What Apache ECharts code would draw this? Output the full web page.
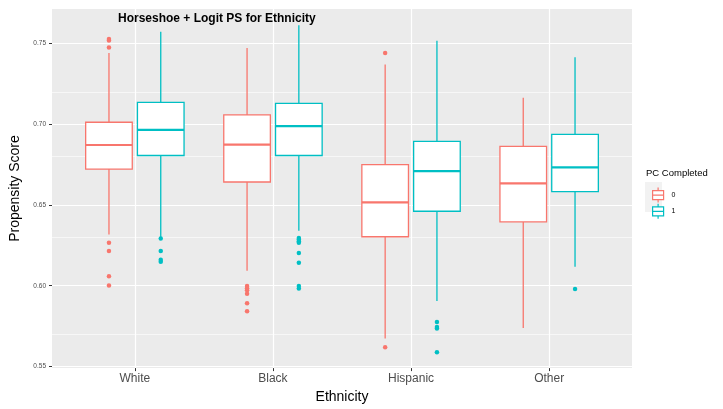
<!DOCTYPE html>
<html>
<head>
<meta charset="utf-8">
<script src="https://cdn.jsdelivr.net/npm/echarts@6/dist/echarts.min.js"></script>
<style>
  html, body { margin: 0; padding: 0; background: #ffffff; }
  #chart { width: 723px; height: 409px; }
</style>
</head>
<body>
<div id="chart"></div>
<script>
// Propensity score distribution by ethnicity, split by PC completion status
const categories = ['White', 'Black', 'Hispanic', 'Other'];
const groupNames = ['0', '1'];

// Box statistics per category: [lower whisker, Q1, median, Q3, upper whisker]
const boxPC0 = [
  [0.6317, 0.6722, 0.6871, 0.7012, 0.7441],
  [0.6093, 0.6642, 0.6873, 0.7057, 0.7472],
  [0.5674, 0.6303, 0.6516, 0.6750, 0.7369],
  [0.5739, 0.6395, 0.6634, 0.6863, 0.7163]
];
const boxPC1 = [
  [0.6300, 0.6806, 0.6965, 0.7135, 0.7572],
  [0.6340, 0.6806, 0.6988, 0.7129, 0.7613],
  [0.5905, 0.6461, 0.6709, 0.6893, 0.7517],
  [0.6117, 0.6583, 0.6732, 0.6937, 0.7414]
];

// Outlying points per category
const outliersPC0 = [
  [0.7527, 0.7518, 0.7475, 0.6266, 0.6215, 0.6058, 0.6001],
  [0.5999, 0.5985, 0.5972, 0.5950, 0.5892, 0.5842],
  [0.7441, 0.5619],
  []
];
const outliersPC1 = [
  [0.6293, 0.6215, 0.6160, 0.6148],
  [0.6296, 0.6286, 0.6276, 0.6266, 0.6203, 0.6142, 0.5998, 0.5982],
  [0.5776, 0.5745, 0.5735, 0.5588],
  [0.5980]
];

// Axis tick values
const yMajorTicks = [0.55, 0.60, 0.65, 0.70, 0.75];
const yMinorTicks = [0.575, 0.625, 0.675, 0.725];
const xTicks = [1, 2, 3, 4];

const COLORS = ['#F8766D', '#00BFC4'];
const DODGE = 0.1875;     // horizontal shift of each group from the category centre
const HALF_BOX = 0.16875; // half box width in category units
const FONT = 'Liberation Sans, Arial, Helvetica, sans-serif';

function boxData(stats) {
  return stats.map((s, i) => [i + 1].concat(s));
}
function pointData(lists, shift) {
  const out = [];
  lists.forEach((vals, i) => vals.forEach(v => out.push([i + 1 + shift, v])));
  return out;
}

function boxRenderer(shift, color) {
  return function (params, api) {
    const x = api.value(0) + shift;
    const pLow = api.coord([x, api.value(1)]);
    const pQ1 = api.coord([x, api.value(2)]);
    const pMed = api.coord([x, api.value(3)]);
    const pQ3 = api.coord([x, api.value(4)]);
    const pHigh = api.coord([x, api.value(5)]);
    const half = api.size([HALF_BOX, 0])[0];
    const cx = pMed[0];
    const lineStyle = { stroke: color, lineWidth: 1.3, fill: null };
    return {
      type: 'group',
      children: [
        { type: 'line', shape: { x1: cx, y1: pQ3[1], x2: cx, y2: pHigh[1] }, style: lineStyle },
        { type: 'line', shape: { x1: cx, y1: pQ1[1], x2: cx, y2: pLow[1] }, style: lineStyle },
        { type: 'rect', shape: { x: cx - half, y: pQ3[1], width: half * 2, height: pQ1[1] - pQ3[1] },
          style: { fill: '#ffffff', stroke: color, lineWidth: 1.3 } },
        { type: 'line', shape: { x1: cx - half, y1: pMed[1], x2: cx + half, y2: pMed[1] },
          style: { stroke: color, lineWidth: 2.2 } }
      ]
    };
  };
}

const gridLines = []
  .concat(yMinorTicks.map(v => ({ yAxis: v, lineStyle: { color: '#ffffff', width: 0.6, type: 'solid' } })))
  .concat(yMajorTicks.map(v => ({ yAxis: v, lineStyle: { color: '#ffffff', width: 1.2, type: 'solid' } })))
  .concat(xTicks.map(v => ({ xAxis: v, lineStyle: { color: '#ffffff', width: 1.2, type: 'solid' } })));

const keyIcon = 'path://M6.5,0 L6.5,3 M1,3 L12,3 L12,12 L1,12 Z M1,7.5 L12,7.5 M6.5,12 L6.5,15';

const chart = echarts.init(document.getElementById('chart'));
chart.setOption({
  animation: false,
  backgroundColor: '#ffffff',
  textStyle: { fontFamily: FONT },
  title: {
    text: 'Horseshoe + Logit PS for Ethnicity',
    left: 113, top: 8,
    textStyle: { fontFamily: FONT, fontSize: 12, fontWeight: 'bold', color: '#000000' }
  },
  grid: {
    left: 52, right: 91, top: 9, bottom: 37.3,
    show: true, backgroundColor: '#EBEBEB', borderWidth: 0
  },
  xAxis: {
    type: 'value', min: 0.4, max: 4.6,
    axisLine: { show: false },
    splitLine: { show: false },
    axisTick: { show: true, length: 3, customValues: xTicks, lineStyle: { color: '#333333', width: 1 } },
    axisLabel: {
      customValues: xTicks, margin: 5,
      formatter: v => categories[Math.round(v) - 1] || '',
      fontFamily: FONT, fontSize: 12, color: '#4D4D4D'
    },
    name: 'Ethnicity', nameLocation: 'middle', nameGap: 18,
    nameTextStyle: { fontFamily: FONT, fontSize: 14, color: '#000000' }
  },
  yAxis: {
    type: 'value', min: 0.549, max: 0.7713,
    axisLine: { show: false },
    splitLine: { show: false },
    axisTick: { show: true, length: 3, customValues: yMajorTicks, lineStyle: { color: '#333333', width: 1 } },
    axisLabel: {
      customValues: yMajorTicks, margin: 6,
      formatter: v => v.toFixed(2),
      fontFamily: FONT, fontSize: 6.5, color: '#4D4D4D'
    },
    name: 'Propensity Score', nameLocation: 'middle', nameGap: 23,
    nameTextStyle: { fontFamily: FONT, fontSize: 14, color: '#000000' }
  },
  legend: {
    orient: 'vertical', left: 647, top: 182,
    itemWidth: 13, itemHeight: 15, itemGap: 0,
    textStyle: { fontFamily: FONT, fontSize: 7, color: '#000000', padding: [0, 0, 0, 2] },
    data: groupNames.map((n, i) => ({
      name: n, icon: keyIcon,
      itemStyle: { color: '#ffffff', borderColor: COLORS[i], borderWidth: 1.2 }
    }))
  },
  graphic: [
    { type: 'rect', left: 645, top: 182, shape: { width: 17, height: 15 }, style: { fill: '#F2F2F2' }, z: -1 },
    { type: 'rect', left: 645, top: 197, shape: { width: 17, height: 15 }, style: { fill: '#F2F2F2' }, z: -1 },
    { type: 'text', left: 646, top: 168,
      style: { text: 'PC Completed', font: '9.5px ' + FONT, fill: '#000000' } }
  ],
  series: [
    {
      type: 'line', data: [], z: 1, silent: true,
      markLine: { z: 1, silent: true, symbol: ['none', 'none'], label: { show: false }, animation: false, data: gridLines }
    },
    {
      name: groupNames[0], type: 'custom', z: 6,
      renderItem: boxRenderer(-DODGE, COLORS[0]),
      encode: { x: 0, y: [1, 2, 3, 4, 5] },
      itemStyle: { color: COLORS[0] },
      data: boxData(boxPC0)
    },
    {
      name: groupNames[1], type: 'custom', z: 6,
      renderItem: boxRenderer(DODGE, COLORS[1]),
      encode: { x: 0, y: [1, 2, 3, 4, 5] },
      itemStyle: { color: COLORS[1] },
      data: boxData(boxPC1)
    },
    {
      name: groupNames[0], type: 'scatter', z: 8, symbolSize: 4.5,
      itemStyle: { color: COLORS[0], opacity: 1 },
      data: pointData(outliersPC0, -DODGE)
    },
    {
      name: groupNames[1], type: 'scatter', z: 8, symbolSize: 4.5,
      itemStyle: { color: COLORS[1], opacity: 1 },
      data: pointData(outliersPC1, DODGE)
    }
  ]
});
</script>
</body>
</html>
